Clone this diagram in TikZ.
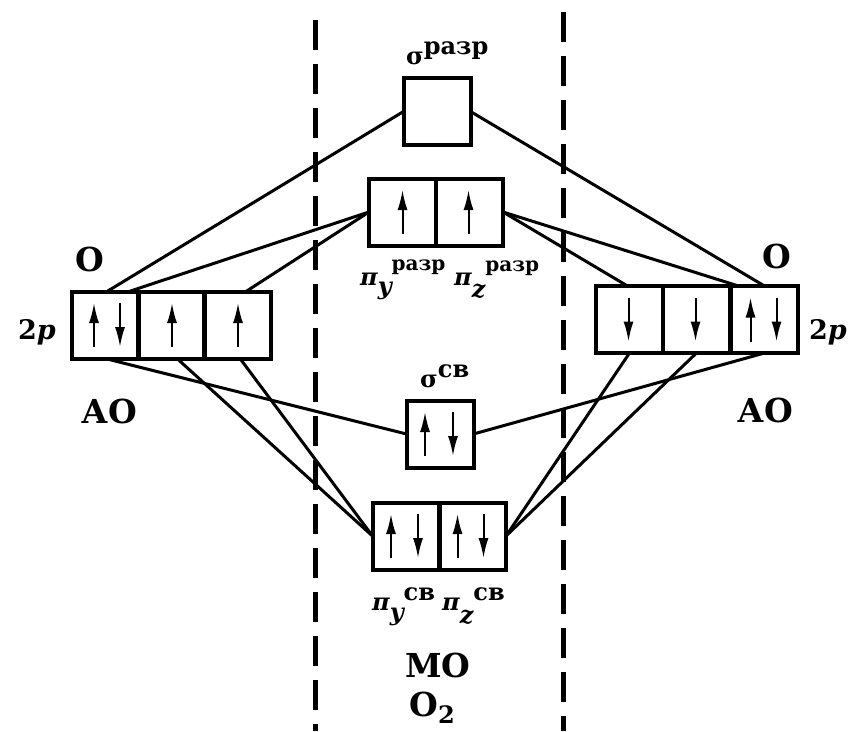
\documentclass[tikz,border=0pt]{standalone}
\usepackage{fontspec}
\setmainfont{DejaVu Serif}
\usetikzlibrary{arrows.meta}
\tikzset{
  orb/.style={draw, line width=4pt, minimum width=67pt, minimum height=67pt, inner sep=0pt, outer sep=0pt},
  conn/.style={line width=3pt},
  sepline/.style={line width=5pt, dash pattern=on 30pt off 14pt},
  spin/.style={line width=2pt, -{Latex[length=20pt,width=10pt]}},
  lbl/.style={font=\fontsize{33}{36}\selectfont\bfseries, inner sep=0pt},
  twop/.style={font=\fontsize{27}{30}\selectfont\bfseries, inner sep=0pt},
  mol/.style={font=\fontsize{24}{28}\selectfont\bfseries, inner sep=0pt, anchor=base west},
}
\newcommand\spinup[2]{\draw[spin] ([xshift=#2,yshift=-22pt]#1.center) -- ([xshift=#2,yshift=22pt]#1.center);}
\newcommand\spindn[2]{\draw[spin] ([xshift=#2,yshift=22pt]#1.center) -- ([xshift=#2,yshift=-22pt]#1.center);}
\newcommand\smallsup[1]{{\fontsize{20}{22}\selectfont #1}}
\newcommand\mypi{{\itshape π}}
\begin{document}
\begin{tikzpicture}[x=1pt,y=-1pt]
\useasboundingbox (0,0) rectangle (848,731);
% separators
\coordinate (dL1) at (315,20);
\coordinate (dL2) at (315,731);
\coordinate (dR1) at (563,12);
\coordinate (dR2) at (563,731);
\draw[sepline] (dL1) -- (dL2);
\draw[sepline] (dR1) -- (dR2);
% MO boxes
\node[orb] (sS) at (437,111.5) {};
\node[orb] (PsY) at (402.5,212) {};
\node[orb] (PsZ) at (469.5,212) {};
\node[orb] (sB) at (440,434) {};
\node[orb] (PbY) at (406,536) {};
\node[orb] (PbZ) at (472.5,536) {};
% AO boxes
\node[orb] (L1) at (105,325) {};
\node[orb] (L2) at (171,325) {};
\node[orb] (L3) at (237,325) {};
\node[orb] (R1) at (629.5,319.5) {};
\node[orb] (R2) at (696.5,319.5) {};
\node[orb] (R3) at (764.5,319.5) {};
% spins
\spinup{L1}{-11pt}\spindn{L1}{15pt}
\spinup{L2}{1pt}
\spinup{L3}{1pt}
\spindn{R1}{-1pt}
\spindn{R2}{-1pt}
\spinup{R3}{-14pt}\spindn{R3}{12pt}
\spinup{PsY}{0pt}
\spinup{PsZ}{-1pt}
\spinup{sB}{-15pt}\spindn{sB}{13pt}
\spinup{PbY}{-15pt}\spindn{PbY}{12pt}
\spinup{PbZ}{-15pt}\spindn{PbZ}{11pt}
% connectors
\draw[conn] ([xshift=2pt]L1.north) -- (sS.west);
\draw[conn] ([xshift=24pt]L1.north) -- (PsY.west);
\draw[conn] ([xshift=9pt]L3.north) -- (PsY.west);
\draw[conn] (R3.north) -- (sS.east);
\draw[conn] ([xshift=-26pt]R3.north) -- (PsZ.east);
\draw[conn] ([xshift=-2pt]R1.north) -- (PsZ.east);
\draw[conn] (L1.south) -- (sB.west);
\draw[conn] ([xshift=6pt]L2.south) -- (PbY.west);
\draw[conn] ([xshift=3pt]L3.south) -- (PbY.west);
\draw[conn] (R3.south) -- (sB.east);
\draw[conn] (R1.south) -- (PbZ.east);
\draw[conn] (R2.south) -- (PbZ.east);
% labels
\node[lbl] (oL) at (90,259) {O};
\node[lbl] (oR) at (777,256) {O};
\node[lbl] (aoL) at (109,411) {АО};
\node[lbl] (aoR) at (765,410) {АО};
\node[lbl] (mo) at (438,665) {МО};
\node[lbl] (o2) at (432,708) {O\raisebox{-7pt}{\fontsize{24}{24}\selectfont 2}};
\node[twop] (pL) at (37,332) {2{\itshape p}};
\node[twop] (pR) at (828,332) {2{\itshape p}};
\node[mol] (tsS) at (406,64) {σ\raisebox{10pt}{разр}};
\node[mol] (tPsY) at (360,285) {\mypi\raisebox{-9pt}{\itshape y}\raisebox{15pt}{\smallsup{разр}}};
\node[mol] (tPsZ) at (454,285) {\mypi\raisebox{-12pt}{\itshape z}\raisebox{14pt}{\smallsup{разр}}};
\node[mol] (tsB) at (420,387) {σ\raisebox{10pt}{св}};
\node[mol] (tPbY) at (372,610) {\mypi\raisebox{-10pt}{\itshape y}\raisebox{10pt}{св}};
\node[mol] (tPbZ) at (442,610) {\mypi\raisebox{-13pt}{\itshape z}\raisebox{10pt}{св}};
\end{tikzpicture}
\end{document}
